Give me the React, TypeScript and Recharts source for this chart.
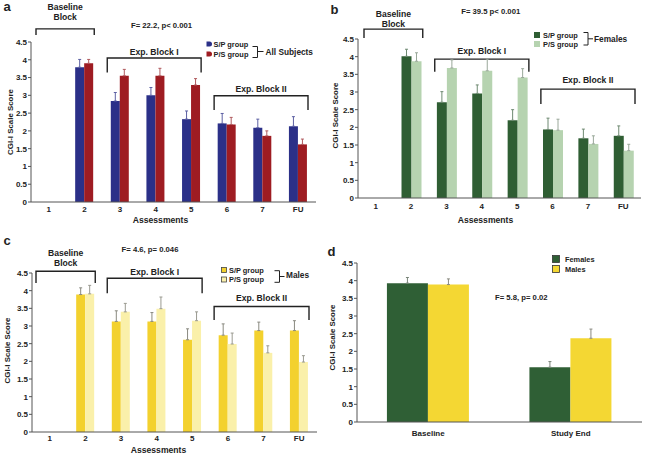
import React from 'react';
import { BarChart, Bar, XAxis, YAxis, ErrorBar, ReferenceArea } from 'recharts';

const FONT = '"Liberation Sans", Arial, Helvetica, sans-serif';

// ---------- shared ----------
const assessments = ['1', '2', '3', '4', '5', '6', '7', 'FU'];
const yTicks = [0, 0.5, 1, 1.5, 2, 2.5, 3, 3.5, 4, 4.5];

// ---------- panel a : all subjects ----------
const allSP = [null, 3.79, 2.84, 3.0, 2.33, 2.21, 2.09, 2.13];
const allSPErr = [null, 0.22, 0.24, 0.22, 0.23, 0.28, 0.24, 0.27];
const allPS = [null, 3.9, 3.55, 3.55, 3.29, 2.18, 1.86, 1.62];
const allPSErr = [null, 0.11, 0.18, 0.21, 0.18, 0.2, 0.14, 0.15];

// ---------- panel b : females ----------
const femSP = [null, 4.01, 2.71, 2.96, 2.2, 1.94, 1.69, 1.76];
const femSPErr = [null, 0.2, 0.3, 0.24, 0.3, 0.32, 0.26, 0.28];
const femPS = [null, 3.87, 3.68, 3.6, 3.41, 1.92, 1.53, 1.34];
const femPSErr = [null, 0.24, 0.23, 0.33, 0.25, 0.31, 0.23, 0.18];

// ---------- panel c : males ----------
const maleSP = [null, 3.89, 3.13, 3.13, 2.61, 2.74, 2.87, 2.87];
const maleSPErr = [null, 0.19, 0.3, 0.25, 0.31, 0.32, 0.24, 0.28];
const malePS = [null, 3.91, 3.4, 3.49, 3.15, 2.49, 2.24, 1.98];
const malePSErr = [null, 0.24, 0.24, 0.33, 0.25, 0.31, 0.2, 0.18];

// ---------- panel d : sex comparison ----------
const timepoints = ['Baseline', 'Study End'];
const females = [3.93, 1.55];
const femalesErr = [0.16, 0.16];
const males = [3.89, 2.37];
const malesErr = [0.16, 0.26];

// ---------- bracket annotations (data coordinates) ----------
const bracketsA = [
  { lines: ['Baseline', 'Block'], from: '1', to: '2', top: 4.87, bottom: 4.7, gap: 12 },
  { lines: ['Exp. Block I'], from: '3', to: '5', top: 4.05, bottom: 3.64, gap: 6 },
  { lines: ['Exp. Block II'], from: '6', to: 'FU', top: 2.99, bottom: 2.59, gap: 7 },
];
const bracketsB = [
  { lines: ['Baseline', 'Block'], from: '1', to: '2', top: 4.78, bottom: 4.53, gap: 5 },
  { lines: ['Exp. Block I'], from: '3', to: '5', top: 3.93, bottom: 3.57, gap: 8 },
  { lines: ['Exp. Block II'], from: '6', to: 'FU', top: 3.08, bottom: 2.66, gap: 9 },
];
const bracketsC = [
  { lines: ['Baseline', 'Block'], from: '1', to: '2', top: 4.55, bottom: 4.22, gap: 8.5 },
  { lines: ['Exp. Block I'], from: '3', to: '5', top: 4.35, bottom: 3.93, gap: 6.5 },
  { lines: ['Exp. Block II'], from: '6', to: 'FU', top: 3.55, bottom: 3.17, gap: 8.5 },
];

const buildRows = (cats: string[], a: (number | null)[], ae: (number | null)[], b: (number | null)[], be: (number | null)[]) =>
  cats.map((name, i) => ({
    name,
    s1: a[i],
    e1: ae[i] == null ? null : [0, ae[i]],
    s2: b[i],
    e2: be[i] == null ? null : [0, be[i]],
  }));

const dataA = buildRows(assessments, allSP, allSPErr, allPS, allPSErr);
const dataB = buildRows(assessments, femSP, femSPErr, femPS, femPSErr);
const dataC = buildRows(assessments, maleSP, maleSPErr, malePS, malePSErr);
const dataD = buildRows(timepoints, females, femalesErr, males, malesErr);

const tickStyle = { fontSize: 8, fontWeight: 700, fill: '#222', fontFamily: FONT };
const AXIS = '#555';

const makeBracket = (lines: string[], gap: number, insetL: number, insetR: number) => (props: any) => {
  const { x, y, width, height } = props;
  const x1 = x + insetL;
  const x2 = x + width - insetR;
  const cx = (x1 + x2) / 2;
  return (
    <g>
      <path d={`M${x1},${y + height}V${y}H${x2}V${y + height}`} fill="none" stroke="#222" strokeWidth={1.4} />
      {lines.map((t, i) => (
        <text
          key={i}
          x={cx}
          y={y - gap - (lines.length - 1 - i) * 10}
          textAnchor="middle"
          dominantBaseline="central"
          style={{ fontFamily: FONT, fontWeight: 700, fontSize: 8.6, fill: '#222' }}
        >
          {t}
        </text>
      ))}
    </g>
  );
};

type PanelProps = {
  left: number;
  top: number;
  width: number;
  height: number;
  data: any[];
  margin: { top: number; right: number; bottom: number; left: number };
  yWidth: number;
  xHeight: number;
  xTickMargin: number;
  yLabelX: number;
  yLabelDy?: number;
  xLabel?: string;
  xLabelDx?: number;
  xLabelY?: number;
  colors: [string, string];
  errColors: [string, string];
  barGapPct: string;
  brackets?: any[];
  insetL?: number;
  insetR?: number;
  children?: React.ReactNode;
};

function Panel(p: PanelProps) {
  return (
    <div style={{ position: 'absolute', left: p.left, top: p.top, width: p.width, height: p.height }}>
      <BarChart
        width={p.width}
        height={p.height}
        data={p.data}
        margin={p.margin}
        barCategoryGap={p.barGapPct}
        barGap={0}
      >
        <XAxis
          dataKey="name"
          type="category"
          tick={tickStyle}
          tickLine={false}
          tickSize={0}
          tickMargin={p.xTickMargin}
          height={p.xHeight}
          axisLine={{ stroke: AXIS, strokeWidth: 1 }}
          interval={0}
          label={(lp: any) => {
            if (!p.xLabel) return null;
            const vb = lp.viewBox;
            return (
              <text
                x={vb.x + vb.width / 2 + (p.xLabelDx || 0)}
                y={vb.y + (p.xLabelY || 0)}
                textAnchor="middle"
                dominantBaseline="central"
                style={{ fontFamily: FONT, fontWeight: 700, fontSize: 8.6, fill: '#222' }}
              >
                {p.xLabel}
              </text>
            );
          }}
        />
        <YAxis
          type="number"
          domain={[0, 4.5]}
          ticks={yTicks}
          interval={0}
          width={p.yWidth}
          tick={tickStyle}
          tickSize={3}
          tickMargin={1}
          tickLine={{ stroke: AXIS }}
          axisLine={{ stroke: AXIS, strokeWidth: 1 }}
          label={(lp: any) => {
            const vb = lp.viewBox;
            const cy = vb.y + vb.height / 2 + (p.yLabelDy || 0);
            return (
              <text
                transform={`translate(${vb.x + p.yLabelX},${cy}) rotate(-90)`}
                textAnchor="middle"
                dominantBaseline="central"
                style={{ fontFamily: FONT, fontWeight: 700, fontSize: 7.9, fill: '#222' }}
              >
                CGI-I Scale Score
              </text>
            );
          }}
        />
        <Bar dataKey="s1" fill={p.colors[0]} isAnimationActive={false}>
          <ErrorBar dataKey="e1" width={1.5} stroke={p.errColors[0]} strokeWidth={1} direction="y" />
        </Bar>
        <Bar dataKey="s2" fill={p.colors[1]} isAnimationActive={false}>
          <ErrorBar dataKey="e2" width={1.5} stroke={p.errColors[1]} strokeWidth={1} direction="y" />
        </Bar>
        {(p.brackets || []).map((b, i) => (
          <ReferenceArea
            key={i}
            x1={b.from}
            x2={b.to}
            y1={b.bottom}
            y2={b.top}
            ifOverflow="visible"
            shape={makeBracket(b.lines, b.gap, p.insetL ?? 5, p.insetR ?? 8)}
          />
        ))}
      </BarChart>
      <svg
        width={p.width}
        height={p.height}
        style={{ position: 'absolute', left: 0, top: 0, pointerEvents: 'none', fontFamily: FONT }}
      >
        {p.children}
      </svg>
    </div>
  );
}

const txt = (x: number, y: number, s: string, size = 7.6, anchor: any = 'start') => (
  <text x={x} y={y} textAnchor={anchor} dominantBaseline="central" style={{ fontFamily: FONT, fontWeight: 700, fontSize: size, fill: '#222' }}>
    {s}
  </text>
);

const BLUE = '#2B3088';
const RED = '#9E1C22';
const DGREEN = '#2F5E33';
const LGREEN = '#B6D3B0';
const YELLOW = '#F3D12E';
const LYELLOW = '#FAF0AA';

export default function App() {
  return (
    <div style={{ position: 'absolute', left: 0, top: 0, width: 645, height: 456, background: '#fff', overflow: 'hidden' }}>
      {/* a */}
      <Panel
        left={0}
        top={0}
        width={322}
        height={228}
        data={dataA}
        margin={{ top: 42, right: 6, bottom: 1, left: 0 }}
        yWidth={31}
        xHeight={25}
        xTickMargin={4}
        yLabelX={10}
        xLabel="Assessments"
        xLabelDx={-13}
        xLabelY={18}
        colors={[BLUE, RED]}
        errColors={['#5c60a3', '#b05a5e']}
        barGapPct="24%"
        brackets={bracketsA}
        insetL={5}
        insetR={8}
      >
        {txt(7, 6, 'a', 13, 'middle')}
        {txt(161.5, 25, 'F= 22.2, p< 0.001', 7.7, 'middle')}
        <path d="M206.5,41.5h3a2.5,2.5 0 0 1 0,5h-3z" fill={BLUE} />
        <path d="M206.5,51.5h3a2.5,2.5 0 0 1 0,5h-3z" fill={RED} />
        {txt(213.5, 44.3, 'S/P group', 7.4)}
        {txt(213.5, 54.3, 'P/S group', 7.4)}
        <path d="M252.5,46.5h5v11h-5M257.5,51.5h6" fill="none" stroke="#222" strokeWidth={1} />
        {txt(265.5, 51.5, 'All Subjects', 8.3)}
      </Panel>

      {/* b */}
      <Panel
        left={322}
        top={0}
        width={323}
        height={228}
        data={dataB}
        margin={{ top: 39, right: 4, bottom: 2, left: 0 }}
        yWidth={36}
        xHeight={28}
        xTickMargin={5}
        yLabelX={13}
        yLabelDy={-3}
        xLabel="Assessments"
        xLabelDx={-14}
        xLabelY={22}
        colors={[DGREEN, LGREEN]}
        errColors={['#6f8a72', '#9aa89a']}
        barGapPct="23%"
        brackets={bracketsB}
        insetL={6}
        insetR={6}
      >
        {txt(12.5, 9, 'b', 13, 'middle')}
        {txt(168.7, 11, 'F= 39.5 p< 0.001', 7.7, 'middle')}
        <rect x={212} y={32} width={6} height={6} fill={DGREEN} />
        <rect x={212} y={41} width={6} height={6} fill={LGREEN} />
        {txt(221, 35, 'S/P group', 7.4)}
        {txt(221, 44, 'P/S group', 7.4)}
        <path d="M261.5,32.5h4.5v12.5h-4.5M266,38.8h5" fill="none" stroke="#222" strokeWidth={1} />
        {txt(272, 39, 'Females', 8.3)}
      </Panel>

      {/* c */}
      <Panel
        left={0}
        top={228}
        width={322}
        height={228}
        data={dataC}
        margin={{ top: 45, right: 5, bottom: 1, left: 0 }}
        yWidth={32}
        xHeight={23}
        xTickMargin={3}
        yLabelX={7.5}
        yLabelDy={-2}
        xLabel="Assessments"
        xLabelDx={-16}
        xLabelY={18}
        colors={[YELLOW, LYELLOW]}
        errColors={['#8a8a80', '#9a9a90']}
        barGapPct="24%"
        brackets={bracketsC}
        insetL={4}
        insetR={8}
      >
        {txt(7, 12, 'c', 13, 'middle')}
        {txt(150, 21, 'F= 4.6, p= 0.046', 7.7, 'middle')}
        <rect x={221.5} y={39.5} width={5} height={5} fill={YELLOW} stroke="#444" strokeWidth={0.8} />
        <rect x={221.5} y={49} width={5} height={5} fill={LYELLOW} stroke="#444" strokeWidth={0.8} />
        {txt(229, 42, 'S/P group', 7.4)}
        {txt(229, 51.3, 'P/S group', 7.4)}
        <path d="M274.5,42.7h5v11.6h-5M279.5,48.5h5" fill="none" stroke="#222" strokeWidth={1} />
        {txt(286, 47, 'Males', 8.3)}
      </Panel>

      {/* d */}
      <Panel
        left={322}
        top={228}
        width={323}
        height={228}
        data={dataD}
        margin={{ top: 35, right: 3, bottom: 2, left: 0 }}
        yWidth={35}
        xHeight={32}
        xTickMargin={8}
        yLabelX={10}
        yLabelDy={-5}
        colors={['#2F5F35', '#F4D733']}
        errColors={['#7a857a', '#8a8a80']}
        barGapPct="21%"
      >
        {txt(9.5, 23.5, 'd', 13, 'middle')}
        {txt(173, 69, 'F= 5.8, p= 0.02', 7.7)}
        <rect x={230.5} y={27.5} width={7} height={7} fill="#2F5F35" stroke="#333" strokeWidth={0.8} />
        <rect x={230.5} y={37.5} width={7} height={7} fill="#F4D733" stroke="#333" strokeWidth={0.8} />
        {txt(243, 31, 'Females', 7.4)}
        {txt(243, 41, 'Males', 7.4)}
      </Panel>
    </div>
  );
}
